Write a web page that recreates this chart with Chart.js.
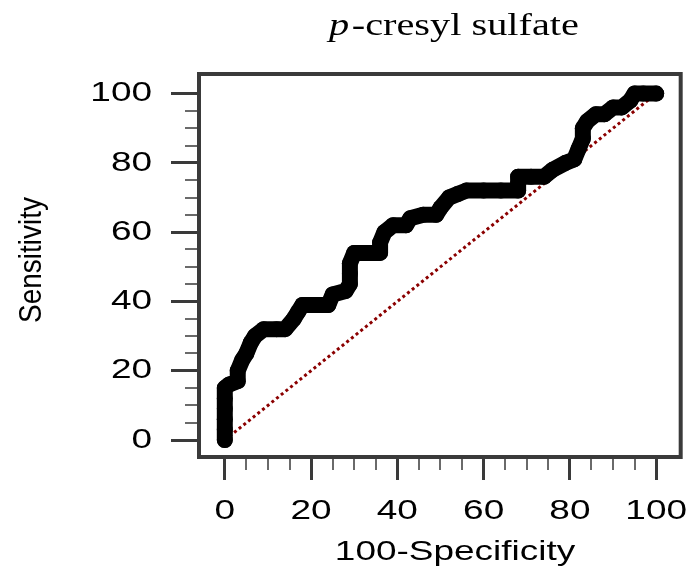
<!DOCTYPE html>
<html>
<head>
<meta charset="utf-8">
<script src="https://cdn.jsdelivr.net/npm/chart.js@4"></script>
<style>
  html, body { margin: 0; padding: 0; background: #ffffff; }
  #wrap { width: 694px; height: 569px; }
</style>
</head>
<body>
<div id="wrap"><canvas id="c" width="694" height="569"></canvas></div>
<script>
// ---- data ----
const fprValues = [0,0,0,0,0,0,1,3,3,4,5,6,7,9,12,14,16,17,18,21,24,25,28,29,29,29,30,33,36,36,37,39,42,43,46,49,50,52,54,56,60,64,68,68,68,71,74,76,79,81,82,83,83,84,86,88,90,92,94,95,97,100];
const tprValues = [0,3,6,9,12,15,16,17,20,23,25,28,30,32,32,32,35,37,39,39,39,42,43,45,48,51,54,54,54,57,60,62,62,64,65,65,67,70,71,72,72,72,72,74,76,76,76,78,80,81,84,87,90,92,94,94,96,96,98,100,100,100];
const diagonalX = [0, 100];
const diagonalY = [0, 100];
const tickValues = [0, 20, 40, 60, 80, 100];
const minorTickValues = [5,10,15,25,30,35,45,50,55,65,70,75,85,90,95];
const titleItalic = 'p';
const titleRest = '-cresyl sulfate';
const xTitle = '100-Specificity';
const yTitle = 'Sensitivity';

const rocPoints = fprValues.map((x, i) => ({ x: x, y: tprValues[i] }));
const diagPoints = diagonalX.map((x, i) => ({ x: x, y: diagonalY[i] }));

const SX = 1.32;      // horizontal stretch of horizontal text, as in the reference
const SX_TITLE = 1.26;
const AXIS_COLOR = '#3a3a3a';
const SANS = '"Liberation Sans", Arial, sans-serif';
const SERIF = '"Liberation Serif", "Times New Roman", serif';

let stretchFactor = SX;
const stretchTextPlugin = {
  id: 'stretchText',
  beforeDraw(chart) {
    const ctx = chart.ctx;
    if (ctx._stretched) return;
    const orig = ctx.fillText;
    ctx.fillText = function (text, x, y) {
      const m = this.getTransform();
      this.save();
      this.translate(x, y);
      if (Math.abs(m.b) > 1e-6 || Math.abs(m.c) > 1e-6) {
        this.scale(1, 1.12);   // rotated text: widen glyphs on screen
      } else {
        this.scale(stretchFactor, 1);
      }
      orig.call(this, text, 0, 0);
      this.restore();
    };
    ctx._stretched = true;
  }
};

const frameAndTitlePlugin = {
  id: 'frameAndTitle',
  afterDraw(chart) {
    const ctx = chart.ctx;
    const a = chart.chartArea;
    const xs = chart.scales.x, ys = chart.scales.y;
    ctx.save();
    // minor ticks
    ctx.strokeStyle = '#6a6a6a';
    ctx.lineWidth = 2;
    minorTickValues.forEach(v => {
      const py = Math.round(ys.getPixelForValue(v));
      ctx.beginPath(); ctx.moveTo(a.left - 14, py); ctx.lineTo(a.left, py); ctx.stroke();
      const px = Math.round(xs.getPixelForValue(v));
      ctx.beginPath(); ctx.moveTo(px, a.bottom); ctx.lineTo(px, a.bottom + 13); ctx.stroke();
    });
    // frame
    ctx.strokeStyle = AXIS_COLOR;
    ctx.lineWidth = 4;
    ctx.strokeRect(a.left, a.top, a.right - a.left, a.bottom - a.top);

    ctx.fillStyle = '#000';
    // chart title
    stretchFactor = SX_TITLE;
    ctx.textBaseline = 'alphabetic';
    ctx.textAlign = 'left';
    ctx.font = 'italic 32px ' + SERIF;
    const wItalic = ctx.measureText(titleItalic).width;
    ctx.font = '32px ' + SERIF;
    const wRest = ctx.measureText(titleRest).width;
    const total = (wItalic + wRest + 2) * SX_TITLE;
    const x0 = 454 - total / 2;
    const baseY = 35;
    ctx.font = 'italic 32px ' + SERIF;
    ctx.fillText(titleItalic, x0, baseY);
    ctx.font = '32px ' + SERIF;
    ctx.fillText(titleRest, x0 + (wItalic + 2) * SX_TITLE, baseY);
    stretchFactor = SX;

    // x axis title
    ctx.font = '28px ' + SANS;
    ctx.textAlign = 'center';
    ctx.textBaseline = 'alphabetic';
    ctx.fillText(xTitle, 455, 560);

    // y axis title (rotated)
    ctx.save();
    ctx.translate(32, 260);
    ctx.rotate(-Math.PI / 2);
    ctx.textAlign = 'center';
    ctx.textBaseline = 'middle';
    ctx.font = '28px ' + SANS;
    ctx.fillText(yTitle, 0, 0);
    ctx.restore();

    ctx.restore();
  }
};

const tickFont = { family: SANS, size: 28 };

new Chart(document.getElementById('c'), {
  type: 'scatter',
  data: {
    datasets: [
      {
        label: 'ROC',
        data: rocPoints,
        showLine: true,
        borderColor: '#000000',
        backgroundColor: '#000000',
        borderWidth: 16,
        borderJoinStyle: 'round',
        borderCapStyle: 'round',
        pointRadius: 8,
        pointBorderWidth: 0,
        pointBackgroundColor: '#000000',
        tension: 0,
        order: 1
      },
      {
        label: 'Reference',
        data: diagPoints,
        showLine: true,
        borderColor: '#8b0000',
        borderWidth: 3,
        borderDash: [3, 3],
        borderCapStyle: 'butt',
        pointRadius: 0,
        order: 2
      }
    ]
  },
  options: {
    responsive: false,
    animation: false,
    devicePixelRatio: 1,
    layout: { padding: { top: 74, right: 9, left: 0, bottom: 0 } },
    plugins: {
      legend: { display: false },
      tooltip: { enabled: false },
      title: { display: false }
    },
    scales: {
      x: {
        type: 'linear',
        position: 'bottom',
        min: -5.98,
        max: 105.68,
        afterBuildTicks(scale) { scale.ticks = tickValues.map(v => ({ value: v })); },
        afterFit(scale) { scale.height = 112; },
        border: { display: false },
        grid: {
          drawOnChartArea: false,
          drawTicks: true,
          tickLength: 23,
          tickWidth: 3,
          tickColor: AXIS_COLOR
        },
        ticks: {
          autoSkip: false,
          maxRotation: 0,
          padding: 14,
          color: '#000000',
          font: tickFont
        },
        title: { display: false }
      },
      y: {
        type: 'linear',
        position: 'left',
        min: -4.9,
        max: 105.65,
        afterBuildTicks(scale) { scale.ticks = tickValues.map(v => ({ value: v })); },
        afterFit(scale) { scale.width = 199; },
        border: { display: false },
        grid: {
          drawOnChartArea: false,
          drawTicks: true,
          tickLength: 28,
          tickWidth: 3,
          tickColor: AXIS_COLOR
        },
        ticks: {
          autoSkip: false,
          padding: 19,
          color: '#000000',
          font: tickFont
        },
        title: { display: false }
      }
    }
  },
  plugins: [stretchTextPlugin, frameAndTitlePlugin]
});
</script>
</body>
</html>
